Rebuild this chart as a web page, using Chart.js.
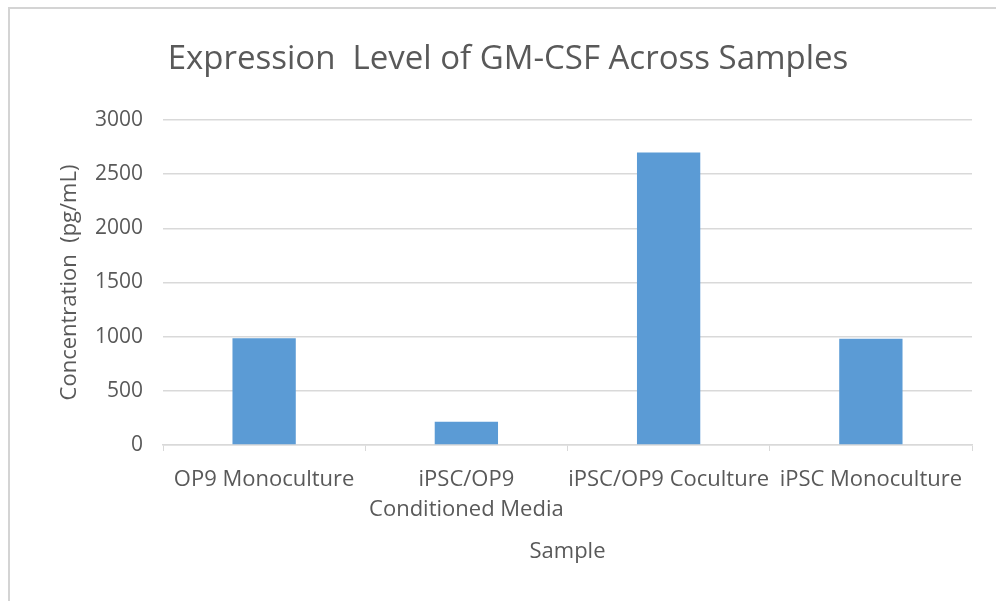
<!DOCTYPE html>
<html>
<head>
<meta charset="utf-8">
<script src="https://cdn.jsdelivr.net/npm/chart.js@4/dist/chart.umd.min.js"></script>
<style>
html,body{margin:0;padding:0;background:#fff;}
#wrap{position:relative;width:996px;height:601px;}
canvas{display:block;}
</style>
</head>
<body>
<div id="wrap"><canvas id="c" width="996" height="601"></canvas></div>
<script>
const categories = ["OP9 Monoculture", ["iPSC/OP9", "Conditioned Media"], "iPSC/OP9 Coculture", "iPSC Monoculture"];
const concentration = [985, 215, 2700, 980];
const yTicks = [0, 500, 1000, 1500, 2000, 2500, 3000];
const titleText = "Expression  Level of GM-CSF Across Samples";
const xTitle = "Sample";
const yTitle = "Concentration  (pg/mL)";

const FONT = "'Open Sans', sans-serif";
const TXT = "#595959";
const GRID = "#d9d9d9";

const frame = {
  id: 'frame',
  beforeDraw(chart) {
    const ctx = chart.ctx;
    ctx.save();
    ctx.fillStyle = '#fff';
    ctx.fillRect(0, 0, chart.width, chart.height);
    ctx.strokeStyle = '#d4d4d4';
    ctx.lineWidth = 2;
    ctx.beginPath();
    ctx.moveTo(9, 601); ctx.lineTo(9, 8); ctx.lineTo(996, 8);
    ctx.stroke();
    ctx.restore();
  },
  afterDraw(chart) {
    const ctx = chart.ctx;
    ctx.save();
    ctx.fillStyle = TXT;
    ctx.font = "33px " + FONT;
    ctx.textAlign = 'center';
    ctx.textBaseline = 'middle';
    ctx.fillText(titleText, 508, 60);
    ctx.restore();
  }
};

new Chart(document.getElementById('c'), {
  type: 'bar',
  data: {
    labels: categories,
    datasets: [{
      data: concentration,
      backgroundColor: '#5B9BD5',
      borderWidth: 0,
      categoryPercentage: 1,
      barPercentage: 0.313
    }]
  },
  plugins: [frame],
  options: {
    responsive: false,
    animation: false,
    layout: { padding: { left: 0, right: 24, top: 120, bottom: 0 } },
    plugins: {
      legend: { display: false },
      tooltip: { enabled: false },
      title: { display: false }
    },
    scales: {
      x: {
        grid: { display: true, drawOnChartArea: false, drawTicks: true, tickLength: 6, color: GRID, offset: true },
        border: { display: true, color: GRID, width: 1.5 },
        ticks: { color: TXT, font: { family: FONT, size: 22, lineHeight: 1.36 }, autoSkip: false, maxRotation: 0, minRotation: 0, padding: 14 },
        title: { display: true, text: xTitle, color: TXT, font: { family: FONT, size: 22 }, padding: { top: 0, bottom: 36 } },
        afterFit(s) { s.height = 156; }
      },
      y: {
        min: 0, max: 3000,
        afterBuildTicks(s) { s.ticks = yTicks.map(v => ({ value: v })); },
        grid: { color: GRID, lineWidth: 1.5, drawTicks: false },
        border: { display: false },
        ticks: { color: TXT, font: { family: FONT, size: 21 }, padding: 20, callback: v => String(v) },
        title: { display: true, text: yTitle, color: TXT, font: { family: FONT, size: 22 }, padding: { top: 57, bottom: 0 } },
        afterFit(s) { s.width = 163; }
      }
    }
  }
});
</script>
</body>
</html>
